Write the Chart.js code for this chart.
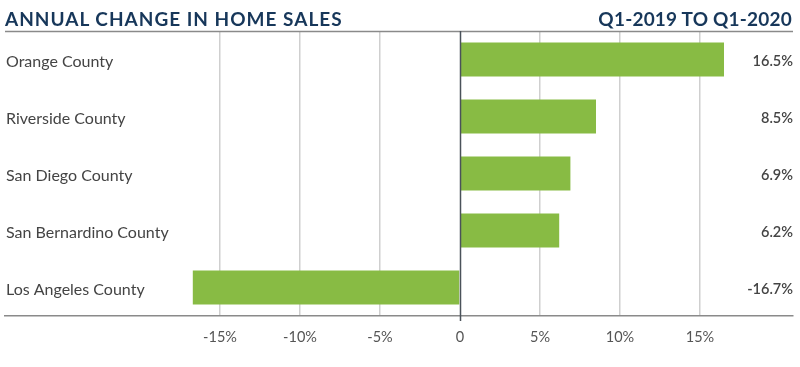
<!DOCTYPE html>
<html><head><meta charset="utf-8">
<script src="https://cdn.jsdelivr.net/npm/chart.js@4"></script>
<style>
html,body{margin:0;padding:0;background:#fff;}
#wrap{position:relative;width:800px;height:367px;}
.ttl{position:absolute;top:7px;font-family:Lato,"Open Sans",sans-serif;font-weight:700;font-size:19px;color:#17375a;white-space:nowrap;}
#tl{left:5px;letter-spacing:1.0px;}
#tr{right:8px;letter-spacing:0.2px;}
canvas{position:absolute;left:0;top:0;}
</style></head><body>
<div id="wrap">
<canvas id="c" width="800" height="367"></canvas>
<div class="ttl" id="tl">ANNUAL CHANGE IN HOME SALES</div>
<div class="ttl" id="tr">Q1-2019 TO Q1-2020</div>
</div>
<script>
const categories = ["Orange County","Riverside County","San Diego County","San Bernardino County","Los Angeles County"];
const changes = [16.5, 8.5, 6.9, 6.2, -16.7];
const tickValues = [-15,-10,-5,0,5,10,15];
const valueLabels = ["16.5%","8.5%","6.9%","6.2%","-16.7%"];

const FONT = 'Lato, "Open Sans", sans-serif';

const decor = {
  id:'decor',
  afterDraw(chart){
    const {ctx, chartArea:a, scales:{x,y}} = chart;
    ctx.save();
    ctx.strokeStyle = '#8a8a8a'; ctx.lineWidth = 1.5;
    ctx.beginPath(); ctx.moveTo(a.left, a.top+0.5); ctx.lineTo(a.right, a.top+0.5); ctx.stroke();
    const zx = Math.round(x.getPixelForValue(0))+0.5;
    ctx.strokeStyle = '#4a525a'; ctx.lineWidth = 1.5;
    ctx.beginPath(); ctx.moveTo(zx, a.top); ctx.lineTo(zx, a.bottom+5); ctx.stroke();
    ctx.fillStyle = '#444'; ctx.font = '600 14.5px '+FONT;
    ctx.textAlign = 'right'; ctx.textBaseline = 'middle';
    chart.data.labels.forEach((lab,i)=>{
      ctx.fillText(valueLabels[i], a.right, y.getPixelForValue(i)+2);
    });
    ctx.restore();
  }
};

new Chart(document.getElementById('c'), {
  type:'bar',
  data:{ labels:categories, datasets:[{ data:changes, backgroundColor:'#88bb44', borderWidth:0, barPercentage:0.6, categoryPercentage:1.0 }]},
  options:{
    indexAxis:'y', responsive:false, animation:false,
    layout:{padding:{top:31,left:5,right:7,bottom:0}},
    plugins:{legend:{display:false}, tooltip:{enabled:false}},
    scales:{
      x:{
        min:-28.4375, max:20.8125,
        afterBuildTicks(axis){ axis.ticks = tickValues.map(v=>({value:v})); },
        afterFit(s){ s.height = 51; },
        ticks:{ callback:(v)=> v===0 ? '0' : v+'%', color:'#555', font:{family:FONT,size:14.5}, padding:13, maxRotation:0, autoSkip:false },
        grid:{ color:(c)=> c.tick && c.tick.value===0 ? 'rgba(0,0,0,0)' : '#cfcfcf', lineWidth:1.5, drawTicks:false },
        border:{ display:true, color:'#8a8a8a', width:1.5 }
      },
      y:{
        afterFit(s){ s.width = 0; },
        grid:{ display:false, drawTicks:false },
        border:{ display:false },
        ticks:{ mirror:true, padding:1, labelOffset:2, color:'#444', font:{family:FONT,size:16} }
      }
    }
  },
  plugins:[decor]
});
</script>
</body></html>
